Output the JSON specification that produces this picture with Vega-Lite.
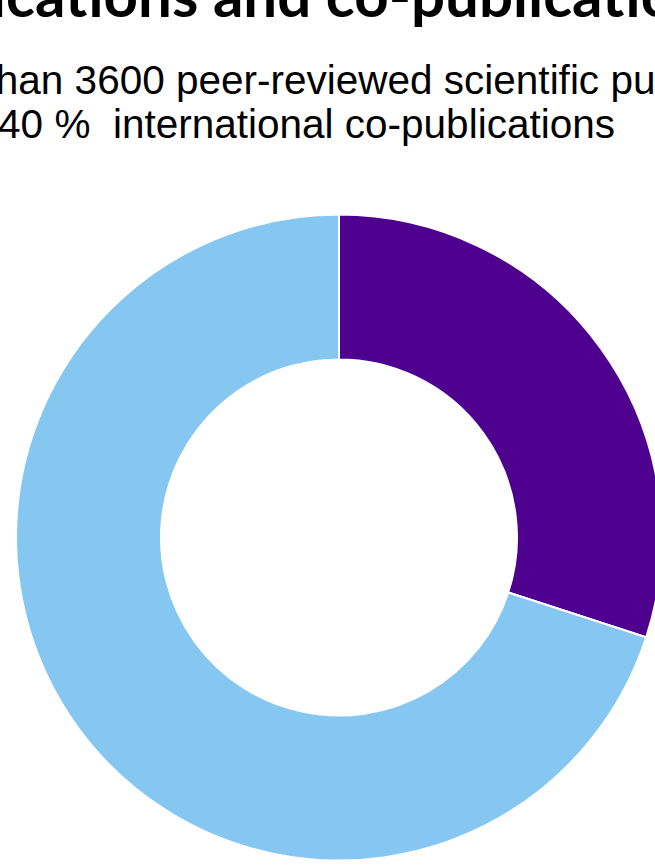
{
  "$schema": "https://vega.github.io/schema/vega-lite/v6.json",
  "autosize": "none",
  "padding": {"left": 0, "top": 215, "right": 655, "bottom": 653},
  "background": "white",
  "title": {
    "text": "Publications and co-publications",
    "anchor": "start",
    "frame": "group",
    "dx": -129,
    "offset": 32,
    "font": "Lato",
    "fontSize": 60,
    "fontWeight": "bold",
    "color": "black"
  },
  "data": {
    "values": [
      {"category": "International co-publications", "share": 30, "order": 1},
      {"category": "Other publications", "share": 70, "order": 2}
    ]
  },
  "vconcat": [
    {
      "width": 678,
      "height": 645,
      "title": {
        "text": ["More than 3600 peer-reviewed scientific publications", "About 40 %\u00a0 international co-publications"],
        "anchor": "start",
        "frame": "group",
        "dx": -119,
        "offset": 64,
        "font": "Liberation Sans",
        "fontSize": 40.5,
        "fontWeight": "normal",
        "color": "black",
        "lineHeight": 44.5
      },
      "mark": {"type": "arc", "outerRadius": 323, "innerRadius": 178, "stroke": "white", "strokeWidth": 2},
      "encoding": {
        "theta": {"field": "share", "type": "quantitative", "stack": true},
        "order": {"field": "order", "type": "quantitative"},
        "color": {
          "field": "category",
          "type": "nominal",
          "scale": {"domain": ["International co-publications", "Other publications"], "range": ["#4E008E", "#85C7F0"]},
          "legend": null
        }
      }
    }
  ],
  "config": {"view": {"stroke": null}}
}
